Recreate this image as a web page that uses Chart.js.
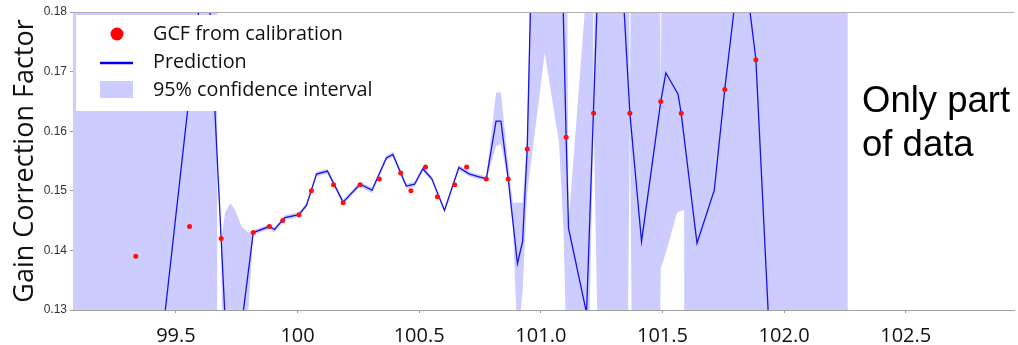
<!DOCTYPE html>
<html>
<head>
<meta charset="utf-8">
<script src="https://cdn.jsdelivr.net/npm/chart.js@4.4.0/dist/chart.umd.min.js"></script>
<style>
  html, body { margin: 0; padding: 0; background: #fff; }
  #wrap { width: 1018px; height: 345px; }
</style>
</head>
<body>
<div id="wrap"><canvas id="gcfChart" width="1018" height="345"></canvas></div>
<script>
// GCF from calibration (red dots)
const gcfX = [99.335, 99.556, 99.686, 99.818, 99.884, 99.939, 100.006, 100.057, 100.148, 100.187,
  100.257, 100.336, 100.424, 100.466, 100.526, 100.575, 100.646, 100.695, 100.776, 100.866,
  100.944, 101.104, 101.217, 101.366, 101.493, 101.577, 101.756, 101.884];
const gcfY = [0.139, 0.144, 0.142, 0.143, 0.144, 0.145, 0.146, 0.150, 0.151, 0.148,
  0.151, 0.152, 0.153, 0.150, 0.154, 0.149, 0.151, 0.154, 0.152, 0.152,
  0.157, 0.159, 0.163, 0.163, 0.165, 0.163, 0.167, 0.172];

// prediction line
const predX = [99.35, 99.626, 99.722, 99.818, 99.884, 99.905, 99.948, 100.006, 100.037, 100.078,
  100.123, 100.187, 100.257, 100.306, 100.365, 100.392, 100.424, 100.447, 100.481, 100.515,
  100.552, 100.604, 100.663, 100.707, 100.776, 100.816, 100.836, 100.866, 100.904, 100.925,
  100.944, 101.025, 101.104, 101.114, 101.188, 101.273, 101.366, 101.414, 101.493, 101.514,
  101.564, 101.577, 101.642, 101.713, 101.756, 101.826, 101.884, 101.97, 102.27];
const predY = [0.091, 0.192, 0.112, 0.1430, 0.1440, 0.1435, 0.1455, 0.1460, 0.1476, 0.1528,
  0.1533, 0.1481, 0.1511, 0.1501, 0.1555, 0.1561, 0.1530, 0.1508, 0.1511, 0.1537,
  0.1520, 0.1467, 0.1539, 0.1528, 0.1520, 0.1617, 0.1617, 0.1520, 0.1378, 0.1415,
  0.1570, 0.300, 0.1590, 0.1437, 0.1295, 0.231, 0.1630, 0.1415, 0.1650, 0.1698,
  0.1662, 0.1630, 0.1412, 0.1501, 0.1670, 0.1914, 0.1720, 0.100, 0.090];

// 95% confidence interval
const bandX = [99.05, 99.668, 99.670, 99.686, 99.691, 99.702, 99.723, 99.743, 99.770, 99.798,
  99.818, 99.884, 99.905, 99.948, 100.006, 100.037, 100.078, 100.123, 100.187, 100.257,
  100.306, 100.365, 100.392, 100.424, 100.447, 100.481, 100.515, 100.552, 100.604, 100.663,
  100.707, 100.776, 100.816, 100.836, 100.866, 100.885, 100.904, 100.925, 100.944, 101.016,
  101.075, 101.093, 101.114, 101.184, 101.200, 101.217, 101.245, 101.343, 101.366, 101.388,
  101.470, 101.493, 101.514, 101.560, 101.589, 101.593, 102.262];
const bandHi = [0.30, 0.30, 0.1556, 0.1422, 0.1430, 0.1463, 0.1479, 0.1468, 0.1440, 0.1430,
  0.1434, 0.1444, 0.1439, 0.1459, 0.1464, 0.1480, 0.1532, 0.1537, 0.1485, 0.1515,
  0.1505, 0.1559, 0.1565, 0.1534, 0.1512, 0.1515, 0.1541, 0.1524, 0.1471, 0.1543,
  0.1532, 0.1524, 0.1665, 0.1665, 0.1545, 0.1480, 0.1480, 0.1480, 0.1590, 0.30,
  0.30, 0.30, 0.1445, 0.1820, 0.30, 0.1636, 0.30, 0.30, 0.1636, 0.30,
  0.30, 0.1656, 0.30, 0.30, 0.30, 0.30, 0.30];
const bandLo = [0.05, 0.05, 0.1548, 0.1414, 0.120, 0.110, 0.100, 0.100, 0.110, 0.130,
  0.1426, 0.1436, 0.1430, 0.1451, 0.1456, 0.1472, 0.1524, 0.1529, 0.1477, 0.1507,
  0.1496, 0.1551, 0.1557, 0.1526, 0.1504, 0.1507, 0.1533, 0.1516, 0.1463, 0.1535,
  0.1524, 0.1516, 0.1575, 0.1578, 0.1515, 0.1440, 0.1250, 0.1330, 0.1495, 0.1731,
  0.1580, 0.1436, 0.110, 0.100, 0.128, 0.1624, 0.10, 0.06, 0.1624, 0.06,
  0.06, 0.1370, 0.1396, 0.1463, 0.1468, 0.05, 0.05];

// axes
const xTicks = [99.5, 100, 100.5, 101, 101.5, 102, 102.5];
const xTickLabels = ['99.5', '100', '100.5', '101.0', '101.5', '102.0', '102.5'];
const yTicks = [0.13, 0.14, 0.15, 0.16, 0.17, 0.18];

const legendLabels = ['GCF from calibration', 'Prediction', '95% confidence interval'];
const noteLines = ['Only part', 'of data'];

const toPts = (xs, ys) => xs.map((x, i) => ({ x: x, y: ys[i] }));

// legend + note + top frame line, drawn over the plot
const overlay = {
  id: 'overlay',
  afterDatasetsDraw(chart) {
    const ctx = chart.ctx;
    const a = chart.chartArea;
    ctx.save();
    // top frame
    ctx.strokeStyle = '#b0b0b0';
    ctx.lineWidth = 1;
    ctx.beginPath();
    ctx.moveTo(a.left, a.top + 0.5);
    ctx.lineTo(a.right, a.top + 0.5);
    ctx.stroke();

    // legend box
    const lx = a.left + 3, ly = a.top + 3;
    ctx.fillStyle = '#ffffff';
    ctx.fillRect(lx, ly, 320, 96);
    ctx.fillStyle = '#ff0000';
    ctx.beginPath();
    ctx.arc(lx + 41, ly + 19, 6.5, 0, Math.PI * 2);
    ctx.fill();
    ctx.strokeStyle = '#0000ee';
    ctx.lineWidth = 2.6;
    ctx.beginPath();
    ctx.moveTo(lx + 24, ly + 48);
    ctx.lineTo(lx + 57, ly + 48);
    ctx.stroke();
    ctx.fillStyle = '#ccccff';
    ctx.fillRect(lx + 24, ly + 66, 33, 17);
    ctx.fillStyle = '#111';
    ctx.font = '19.8px "Open Sans"';
    ctx.textBaseline = 'middle';
    ctx.textAlign = 'left';
    legendLabels.forEach((t, i) => ctx.fillText(t, lx + 77, ly + 19 + i * 28));

    // note text
    ctx.font = '36.5px "Liberation Sans"';
    ctx.textBaseline = 'alphabetic';
    ctx.fillStyle = '#000';
    noteLines.forEach((t, i) => ctx.fillText(t, 862, 112 + i * 44));
    ctx.restore();
  }
};

const ctx = document.getElementById('gcfChart').getContext('2d');
const gcfChart = new Chart(ctx, {
  type: 'line',
  data: {
    datasets: [
      {
        label: legendLabels[0],
        type: 'scatter',
        data: toPts(gcfX, gcfY),
        showLine: false,
        pointRadius: 2.5,
        pointBackgroundColor: '#ff1010',
        pointBorderWidth: 0
      },
      {
        label: legendLabels[1],
        data: toPts(predX, predY),
        borderColor: '#1414e6',
        borderWidth: 1.3,
        pointRadius: 0,
        tension: 0,
        fill: false
      },
      {
        label: 'upper',
        data: toPts(bandX, bandHi),
        borderWidth: 0,
        borderColor: 'rgba(0,0,0,0)',
        pointRadius: 0,
        fill: false
      },
      {
        label: legendLabels[2],
        data: toPts(bandX, bandLo),
        borderWidth: 0,
        borderColor: 'rgba(0,0,0,0)',
        backgroundColor: '#ccccff',
        pointRadius: 0,
        fill: '-1'
      }
    ]
  },
  options: {
    responsive: false,
    animation: false,
    devicePixelRatio: 1,
    layout: { padding: { top: 12, left: 0, right: 0, bottom: 0 } },
    plugins: {
      legend: { display: false },
      tooltip: { enabled: false }
    },
    scales: {
      x: {
        type: 'linear',
        min: 99.077,
        max: 102.945,
        afterBuildTicks: s => { s.ticks = xTicks.map(v => ({ value: v })); },
        afterFit: s => { s.height = 35; },
        grid: { display: true, drawOnChartArea: false, drawTicks: true, tickLength: 3, color: '#999' },
        border: { display: true, color: '#a0a0a0', width: 1 },
        ticks: {
          padding: 11,
          maxRotation: 0,
          color: '#111',
          font: { family: 'Open Sans', size: 20 },
          callback: (v) => xTickLabels[xTicks.indexOf(v)] ?? ''
        }
      },
      y: {
        min: 0.13,
        max: 0.18,
        afterBuildTicks: s => { s.ticks = yTicks.map(v => ({ value: v })); },
        afterFit: s => { s.width = 73; },
        grid: { display: true, drawOnChartArea: false, drawTicks: true, tickLength: 3, color: '#999' },
        border: { display: true, color: '#a0a0a0', width: 1 },
        title: {
          display: true,
          text: 'Gain Correction Factor',
          color: '#111',
          font: { family: 'Open Sans', size: 27 },
          padding: { top: 9, bottom: 0 }
        },
        ticks: {
          padding: 3,
          color: '#333',
          font: { family: 'Liberation Sans', size: 12 },
          callback: v => v.toFixed(2)
        }
      }
    }
  },
  plugins: [overlay]
});
</script>
</body>
</html>
